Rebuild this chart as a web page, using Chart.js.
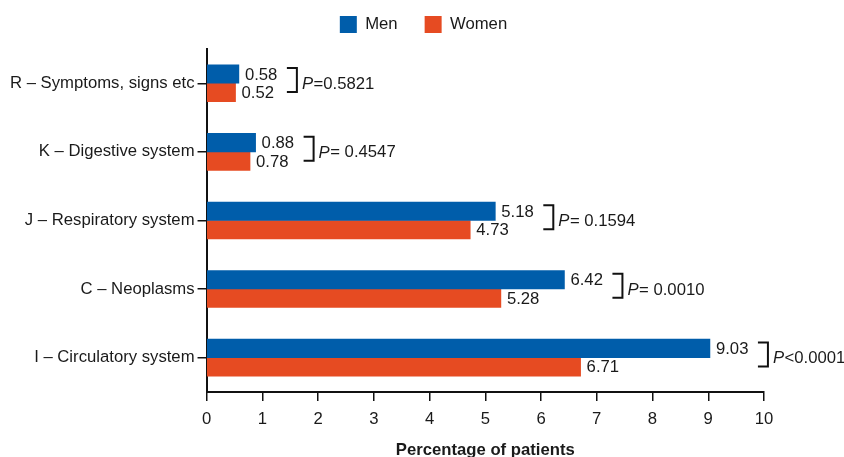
<!DOCTYPE html>
<html>
<head>
<meta charset="utf-8">
<script src="https://cdn.jsdelivr.net/npm/chart.js@4/dist/chart.umd.min.js"></script>
<style>
html,body{margin:0;padding:0;background:#fff;}
#wrap{width:844px;height:457px;}
</style>
</head>
<body>
<div id="wrap"><canvas id="c" width="844" height="457"></canvas></div>
<script>
const categories = ['R – Symptoms, signs etc', 'K – Digestive system', 'J – Respiratory system', 'C – Neoplasms', 'I – Circulatory system'];
const menValues = [0.58, 0.88, 5.18, 6.42, 9.03];
const womenValues = [0.52, 0.78, 4.73, 5.28, 6.71];
const pSymbols = ['=', '= ', '= ', '= ', '<'];
const pValues = ['0.5821', '0.4547', '0.1594', '0.0010', '0.0001'];
const xTicks = [0, 1, 2, 3, 4, 5, 6, 7, 8, 9, 10];

const FONT = '"Liberation Sans", Arial, sans-serif';
const FS = 16.7;
const TEXT = '#1a1a1a';
const BLUE = '#005DAA';
const ORANGE = '#E64B22';

const legendTweak = {
  id: 'legendTweak',
  afterInit(chart) {
    const lg = chart.legend;
    if (!lg) return;
    const origFit = lg.fit;
    lg.fit = function () { origFit.call(this); this.height += 6; };
  },
  afterLayout(chart) {
    const lg = chart.legend;
    if (!lg) return;
    lg.left += 38; lg.right += 38;
  }
};

const annotatePlugin = {
  id: 'annotate',
  afterDatasetsDraw(chart) {
    const ctx = chart.ctx;
    const xs = chart.scales.x;
    const m0 = chart.getDatasetMeta(0);
    const m1 = chart.getDatasetMeta(1);
    ctx.save();
    ctx.font = FS + 'px ' + FONT;
    ctx.fillStyle = TEXT;
    ctx.textBaseline = 'middle';
    ctx.textAlign = 'left';
    [m0, m1].forEach((meta, di) => {
      const vals = di === 0 ? menValues : womenValues;
      meta.data.forEach((bar, i) => {
        ctx.fillText(vals[i].toFixed(2), bar.x + 6, bar.y + 1);
      });
    });
    categories.forEach((c, i) => {
      const b0 = m0.data[i], b1 = m1.data[i];
      const maxV = Math.max(menValues[i], womenValues[i]);
      const xl = xs.getPixelForValue(maxV) + 48;
      const xr = xl + 10;
      const yt = b0.y - 6;
      const yb = b1.y - 0.5;
      ctx.strokeStyle = '#111';
      ctx.lineWidth = 2;
      ctx.beginPath();
      ctx.moveTo(xl, yt);
      ctx.lineTo(xr, yt);
      ctx.lineTo(xr, yb);
      ctx.lineTo(xl, yb);
      ctx.stroke();
      const ym = (b0.y + b1.y) / 2 + 1;
      let tx = xr + 5;
      ctx.font = 'italic ' + FS + 'px ' + FONT;
      ctx.fillText('P', tx, ym);
      tx += ctx.measureText('P').width + 0.5;
      ctx.font = FS + 'px ' + FONT;
      ctx.fillText(pSymbols[i] + pValues[i], tx, ym);
    });
    ctx.restore();
  }
};

new Chart(document.getElementById('c'), {
  type: 'bar',
  data: {
    labels: categories,
    datasets: [
      { label: 'Men', data: menValues, backgroundColor: BLUE, barThickness: 18.5 },
      { label: 'Women', data: womenValues, backgroundColor: ORANGE, barThickness: 18.5 }
    ]
  },
  options: {
    indexAxis: 'y',
    responsive: false,
    animation: false,
    devicePixelRatio: 1,
    layout: { padding: { left: 7, right: 80, top: -11, bottom: -3 } },
    plugins: {
      legend: {
        position: 'top',
        labels: {
          boxWidth: 17, boxHeight: 17, padding: 27,
          color: TEXT, font: { family: FONT, size: FS }
        }
      },
      tooltip: { enabled: false }
    },
    scales: {
      x: {
        min: 0, max: 10,
        afterBuildTicks(scale) { scale.ticks = xTicks.map(v => ({ value: v })); },
        ticks: { color: TEXT, font: { family: FONT, size: FS }, padding: 8 },
        grid: { drawOnChartArea: false, drawTicks: true, tickLength: 9, color: '#111', lineWidth: 1.5 },
        border: { color: '#111', width: 2 },
        title: { display: true, text: 'Percentage of patients', color: TEXT, font: { family: FONT, size: FS, weight: 'bold' }, padding: { top: 3, bottom: 0 } }
      },
      y: {
        ticks: { color: TEXT, font: { family: FONT, size: FS }, padding: 3 },
        grid: { offset: false, drawOnChartArea: false, drawTicks: true, tickLength: 9, color: '#111', lineWidth: 1.5 },
        border: { color: '#111', width: 2 }
      }
    }
  },
  plugins: [legendTweak, annotatePlugin]
});
</script>
</body>
</html>
